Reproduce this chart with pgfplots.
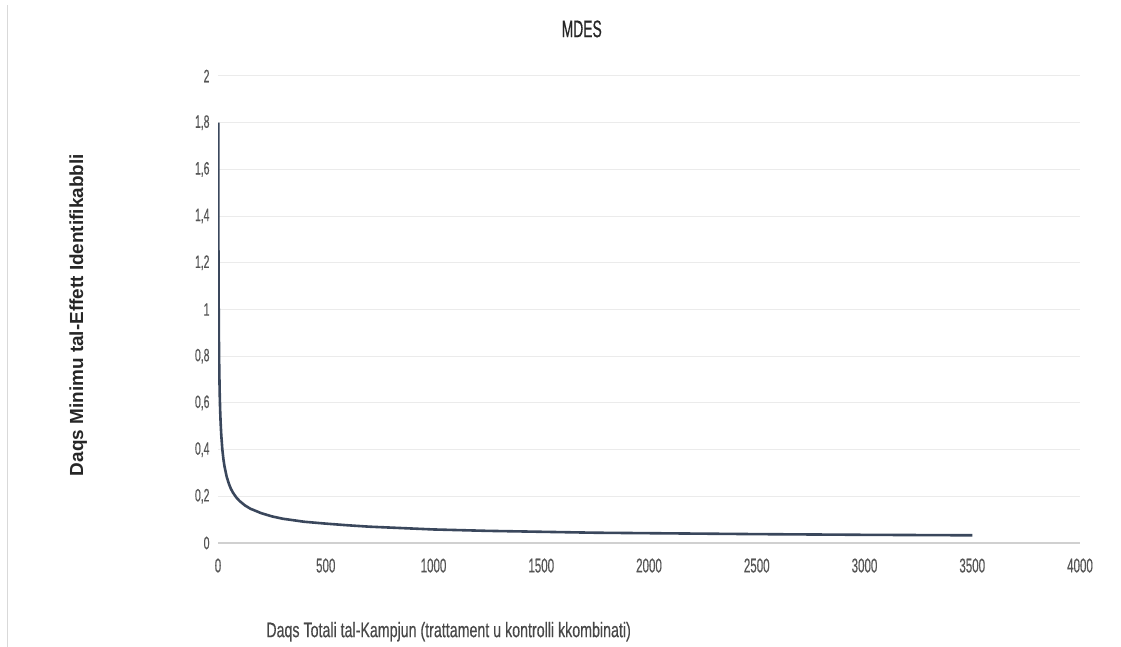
\documentclass[border=0pt]{standalone}
\usepackage{pgfplots}
\pgfplotsset{compat=1.18}
\usepackage{fontspec}
\setmainfont{Liberation Sans}
\newfontfamily\narrow[FakeStretch=0.58, FakeBold=0.4]{Liberation Sans}
\newfontfamily\narrowx[FakeStretch=0.68, FakeBold=0.4]{Liberation Sans}
\definecolor{curve}{HTML}{3A475C}
\definecolor{gridc}{HTML}{EBEBEB}
\definecolor{basec}{HTML}{D0D0D0}
\definecolor{tickc}{HTML}{555555}
\begin{document}
\begin{tikzpicture}
\path[use as bounding box] (0,0) rectangle (1121bp,647bp);
\draw[color=black!15, line width=1bp] (7bp,0) -- (7bp,642bp);
\begin{axis}[
  at={(218bp,104bp)}, anchor=south west,
  scale only axis, width=862bp, height=467bp,
  xmin=0, xmax=4000, ymin=0, ymax=2,
  xtick={0,500,...,4000},
  ytick={0,0.2,...,2},
  axis line style={draw=none},
  tick style={draw=none},
  ymajorgrids, grid style={gridc, line width=1bp},
  extra y ticks={0}, extra y tick labels={},
  extra y tick style={grid style={basec, line width=1.2bp}},
  /pgf/number format/assume math mode=true,
  /pgf/number format/use comma,
  /pgf/number format/1000 sep={},
  ticklabel style={text=tickc},
  yticklabel style={xshift=-5bp, font=\narrow\fontsize{18}{18}\selectfont},
  xticklabel style={yshift=-12bp, font=\narrow\fontsize{20}{20}\selectfont},
  title={MDES},
  title style={at={(rel axis cs:0.422,1.088)}, anchor=center,
    font=\narrow\fontsize{24}{24}\selectfont, text=black!85},
  xlabel={Daqs Totali tal-Kampjun (trattament u kontrolli kkombinati)},
  xlabel style={at={(rel axis cs:0.052,-0.19)}, anchor=west,
    font=\narrowx\fontsize{21}{21}\selectfont, text=black!72},
  ylabel={Daqs Minimu tal-Effett Identifikabbli},
  ylabel style={at={(rel axis cs:-0.162,0.488)}, anchor=center, rotate=0,
    font=\bfseries\fontsize{19}{19}\selectfont, text=black!85},
]
\addplot[curve, line width=2.6bp, line join=round] coordinates {
(1,1.8) (1.5,1.47) (2,1.273) (3,1.039) (4,0.9) (5,0.805) (6,0.735) (8,0.636)
(10,0.569) (12,0.52) (15,0.465) (20,0.402) (25,0.36) (30,0.329) (40,0.285)
(50,0.255) (60,0.232) (70,0.215) (85,0.195) (100,0.18) (125,0.161) (150,0.147)
(200,0.128) (250,0.114) (300,0.104) (400,0.091) (500,0.083) (600,0.076)
(700,0.070) (850,0.064) (1000,0.058) (1250,0.052) (1500,0.048) (1750,0.044)
(2000,0.042) (2500,0.038) (3000,0.035) (3500,0.033)
};
\end{axis}
\end{tikzpicture}
\end{document}
